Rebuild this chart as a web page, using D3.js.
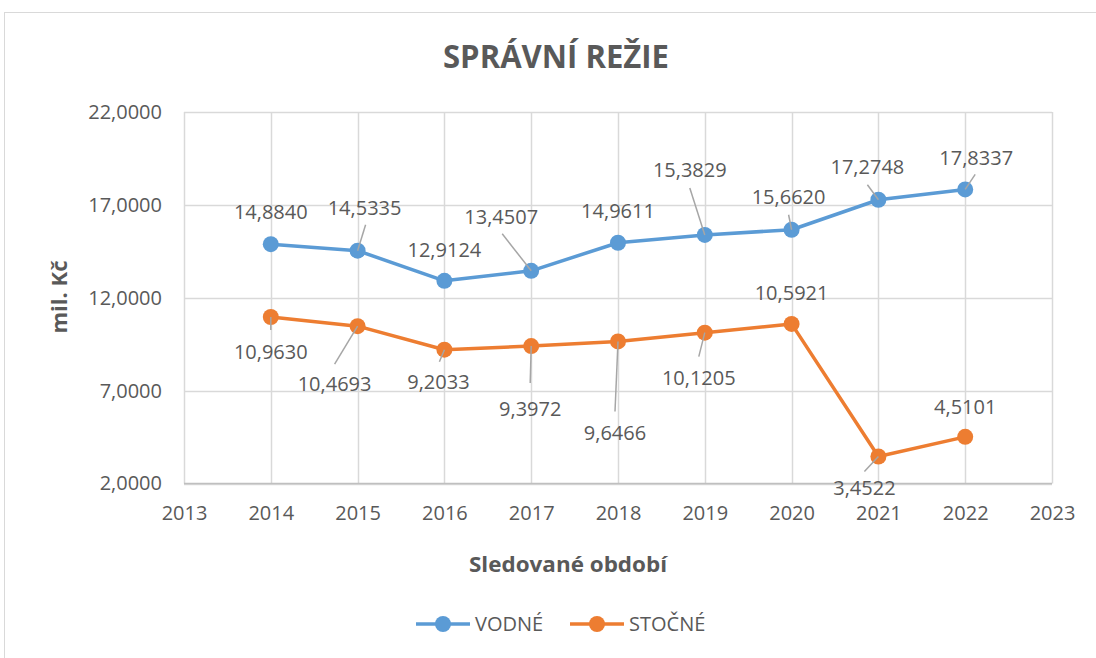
<!DOCTYPE html>
<html><head><meta charset="utf-8">
<script src="https://cdn.jsdelivr.net/npm/d3@7"></script>
<style>
html,body{margin:0;padding:0;background:#fff;}
text{font-family:"Open Sans",sans-serif;fill:#595959;}
</style></head>
<body>
<script>
// ---- data ----
const years = [2014, 2015, 2016, 2017, 2018, 2019, 2020, 2021, 2022];
const vodne = [14.8840, 14.5335, 12.9124, 13.4507, 14.9611, 15.3829, 15.6620, 17.2748, 17.8337];
const stocne = [10.9630, 10.4693, 9.2033, 9.3972, 9.6466, 10.1205, 10.5921, 3.4522, 4.5101];
const seriesNames = ["VODNÉ", "STOČNÉ"];
const yTicks = [2, 7, 12, 17, 22];
const xTicks = [2013, 2014, 2015, 2016, 2017, 2018, 2019, 2020, 2021, 2022, 2023];
const title = "SPRÁVNÍ REŽIE";
const xTitle = "Sledované období";
const yTitle = "mil. Kč";

// ---- label layout (pixel offsets from the point: label centre, leader start or null) ----
const vodneLabelLayout = [
  {dx:0, dy:-32, lead:null},
  {dx:7, dy:-43, lead:[8,-26]},
  {dx:0, dy:-31, lead:null},
  {dx:-30, dy:-54, lead:[-29,-37]},
  {dx:0, dy:-32, lead:null},
  {dx:-15, dy:-65, lead:[-15,-47]},
  {dx:-3, dy:-33, lead:[-3,-15]},
  {dx:-11, dy:-33, lead:[-11,-15]},
  {dx:11, dy:-31, lead:[10,-15]}
];
const stocneLabelLayout = [
  {dx:0, dy:35, lead:[0,13]},
  {dx:-23, dy:58, lead:[-23,38]},
  {dx:-6, dy:32, lead:[-5,12]},
  {dx:-1, dy:63, lead:[-1,37]},
  {dx:-3, dy:92, lead:[-3,70]},
  {dx:-6, dy:45, lead:[-6,24]},
  {dx:0, dy:-31, lead:null},
  {dx:-14, dy:31, lead:[-14,15]},
  {dx:0, dy:-30, lead:null}
];

const colors = ["#5b9bd5", "#ed7d31"];
const W = 1096, H = 658;
const fmt = v => d3.format(".4f")(v).replace(".", ",");

const svg = d3.select("body").append("svg").attr("width", W).attr("height", H);

// chart border
svg.append("rect").attr("x", 4.5).attr("y", 12.5).attr("width", W + 10).attr("height", H + 10)
  .attr("fill", "#fff").attr("stroke", "#d9d9d9").attr("stroke-width", 1);

const plot = {left:184, right:1052, top:112, bottom:483.5};
const x = d3.scaleLinear().domain([2013, 2023]).range([plot.left, plot.right]);
const y = d3.scaleLinear().domain([2, 22]).range([plot.bottom, plot.top]);

// gridlines
const g = svg.append("g");
g.selectAll("line.h").data(yTicks).join("line")
  .attr("x1", plot.left).attr("x2", plot.right)
  .attr("y1", d => Math.round(y(d)) + 0.5).attr("y2", d => Math.round(y(d)) + 0.5)
  .attr("stroke", "#d9d9d9").attr("stroke-width", 1.5);
g.selectAll("line.v").data(xTicks).join("line")
  .attr("y1", plot.top).attr("y2", plot.bottom)
  .attr("x1", d => Math.round(x(d)) + 0.5).attr("x2", d => Math.round(x(d)) + 0.5)
  .attr("stroke", "#d9d9d9").attr("stroke-width", 1.5);
// bottom axis line
g.append("line").attr("x1", plot.left).attr("x2", plot.right)
  .attr("y1", plot.bottom).attr("y2", plot.bottom).attr("stroke", "#bfbfbf").attr("stroke-width", 1.5);

// y axis labels
const yAxis = d3.axisLeft(y).tickValues(yTicks).tickFormat(fmt).tickSize(0).tickPadding(22);
const ya = svg.append("g").attr("transform", `translate(${plot.left},0)`).call(yAxis);
ya.select(".domain").remove();
ya.selectAll("text").style("font-family", '"Open Sans",sans-serif').style("font-size", "20px").attr("fill", "#595959");

// x axis labels
const xAxis = d3.axisBottom(x).tickValues(xTicks).tickFormat(d3.format("d")).tickSize(0).tickPadding(22);
const xa = svg.append("g").attr("transform", `translate(0,${plot.bottom})`).call(xAxis);
xa.select(".domain").remove();
xa.selectAll("text").style("font-family", '"Open Sans",sans-serif').style("font-size", "20px").attr("fill", "#595959");

// titles
svg.append("text").attr("x", 556).attr("y", 68).attr("text-anchor", "middle")
  .attr("textLength", 226).attr("lengthAdjust", "spacingAndGlyphs")
  .style("font-size", "33px").style("font-weight", "bold").text(title);
svg.append("text").attr("x", 568).attr("y", 572).attr("text-anchor", "middle")
  .attr("textLength", 198).attr("lengthAdjust", "spacingAndGlyphs")
  .style("font-size", "21px").style("font-weight", "bold").text(xTitle);
svg.append("text").attr("transform", "translate(67,297) rotate(-90)").attr("text-anchor", "middle")
  .attr("textLength", 73).attr("lengthAdjust", "spacingAndGlyphs")
  .style("font-size", "21px").style("font-weight", "bold").text(yTitle);

// series
const series = [
  {name: seriesNames[0], values: vodne, layout: vodneLabelLayout, color: colors[0]},
  {name: seriesNames[1], values: stocne, layout: stocneLabelLayout, color: colors[1]}
];
const line = d3.line().x(d => x(d[0])).y(d => y(d[1]));

series.forEach(s => {
  const pts = years.map((yr, i) => [yr, s.values[i]]);
  svg.append("path").datum(pts).attr("d", line).attr("fill", "none")
    .attr("stroke", s.color).attr("stroke-width", 3.5).attr("stroke-linejoin", "round");
  svg.selectAll(null).data(pts).join("circle")
    .attr("cx", d => x(d[0])).attr("cy", d => y(d[1])).attr("r", 8).attr("fill", s.color);
});

// leaders and labels
series.forEach(s => {
  years.forEach((yr, i) => {
    const px = x(yr), py = y(s.values[i]);
    const L = s.layout[i];
    if (L.lead) {
      svg.append("line").attr("x1", px + L.lead[0]).attr("y1", py + L.lead[1])
        .attr("x2", px).attr("y2", py).attr("stroke", "#a6a6a6").attr("stroke-width", 1.5);
    }
    svg.append("text").attr("x", px + L.dx).attr("y", py + L.dy + 7)
      .attr("text-anchor", "middle").style("font-size", "20px").text(fmt(s.values[i]));
  });
});

// legend
const legendItems = [
  {name: seriesNames[0], color: colors[0], x0: 416},
  {name: seriesNames[1], color: colors[1], x0: 570}
];
const lg = svg.append("g");
legendItems.forEach(it => {
  lg.append("line").attr("x1", it.x0).attr("x2", it.x0 + 54).attr("y1", 624).attr("y2", 624)
    .attr("stroke", it.color).attr("stroke-width", 3.5);
  lg.append("circle").attr("cx", it.x0 + 27).attr("cy", 624).attr("r", 8).attr("fill", it.color);
  lg.append("text").attr("x", it.x0 + 59).attr("y", 631).style("font-size", "20px").text(it.name);
});
</script>
</body></html>
